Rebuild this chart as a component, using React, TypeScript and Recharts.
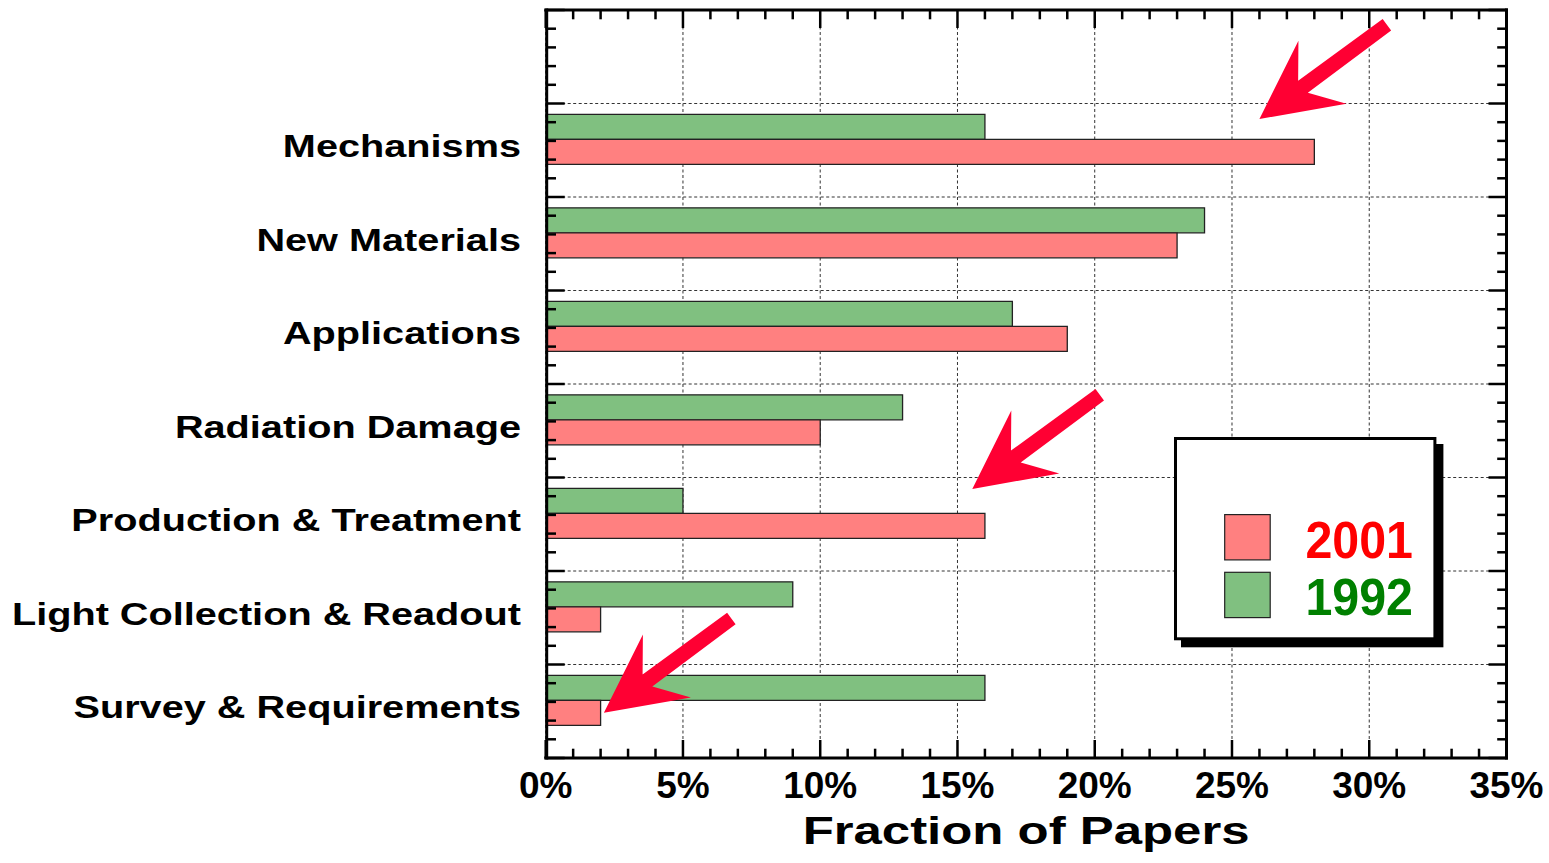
import React from 'react';
import { BarChart, Bar, XAxis, YAxis, CartesianGrid, ReferenceDot, Legend, Label } from 'recharts';

// ---------- data ----------
const categories = [
  'Mechanisms',
  'New Materials',
  'Applications',
  'Radiation Damage',
  'Production & Treatment',
  'Light Collection & Readout',
  'Survey & Requirements',
];
const values1992 = [16, 24, 17, 13, 5, 9, 16];
const values2001 = [28, 23, 19, 10, 16, 2, 2];

const xMajorTicks = [0, 5, 10, 15, 20, 25, 30, 35];
const xMinorTicks = Array.from({ length: 36 }, (_, i) => i);
const bandMajorTicks = [0, 5, 10, 15, 20, 25, 30, 35, 40];
const bandMinorTicks = Array.from({ length: 41 }, (_, i) => i);

// arrow annotation tips (x in %, y in band-grid units from the top, 5 per category band)
const arrowTipsX = [26.0, 15.54, 2.12];
const arrowTipsY = [5.83, 25.61, 37.58];

const series = [
  { key: 'y1992', label: '1992', fill: '#80C080', text: '#008000' },
  { key: 'y2001', label: '2001', fill: '#FF8080', text: '#FF0000' },
];
const legendOrder = ['y2001', 'y1992'];

const data = categories.map((name, i) => ({ name, y1992: values1992[i], y2001: values2001[i] }));

// ---------- styles ----------
const FONT = '"Liberation Sans", Arial, Helvetica, sans-serif';
const W = 1549;
const H = 863;
const TICK_W = 2.5;
const MAJOR_LEN = 18;
const MINOR_LEN = 9.3;

const tickLen = (v: number) => (v % 5 === 0 ? MAJOR_LEN : MINOR_LEN);

const BottomTicks = (p: any) => (
  <line x1={p.x} x2={p.x} y1={p.y} y2={p.y - tickLen(p.payload.value)} stroke="#000" strokeWidth={TICK_W} />
);
const TopTicks = (p: any) => (
  <line x1={p.x} x2={p.x} y1={p.y} y2={p.y + tickLen(p.payload.value)} stroke="#000" strokeWidth={TICK_W} />
);
const LeftTicks = (p: any) => (
  <line x1={p.x} x2={p.x + tickLen(p.payload.value)} y1={p.y} y2={p.y} stroke="#000" strokeWidth={TICK_W} />
);
const RightTicks = (p: any) => (
  <line x1={p.x} x2={p.x - tickLen(p.payload.value)} y1={p.y} y2={p.y} stroke="#000" strokeWidth={TICK_W} />
);
const EmptyTick = () => <g />;

const XLabelTick = (p: any) => (
  <text x={p.x} y={p.y + 40.3} textAnchor="middle" fontSize={37} fontWeight="bold" fontFamily={FONT} fill="#000">
    {`${p.payload.value}%`}
  </text>
);

const CatTick = (p: any) => (
  <g transform={`translate(${p.x - 24.7},${p.y + 18}) scale(1.26,1)`}>
    <text x={0} y={0} textAnchor="end" fontSize={31.5} fontWeight="bold" fontFamily={FONT} fill="#000">
      {p.payload.value}
    </text>
  </g>
);

const TitleContent = (p: any) => {
  const vb = p.viewBox || {};
  const cx = vb.x + vb.width / 2;
  const by = vb.y + 86;
  return (
    <g transform={`translate(${cx},${by}) scale(1.34,1)`}>
      <text x={0} y={0} textAnchor="middle" fontSize={38} fontWeight="bold" fontFamily={FONT} fill="#000">
        Fraction of Papers
      </text>
    </g>
  );
};

const arrowOutline = [
  [0, 0],
  [87, -15.3],
  [48.4, -26.3],
  [131.7, -88.5],
  [123.2, -100],
  [38.7, -38.3],
  [39, -78.3],
];
const ArrowShape = (p: any) => {
  if (p.cx == null || p.cy == null) return null;
  const pts = arrowOutline.map(([dx, dy]) => `${p.cx + dx},${p.cy + dy}`).join(' ');
  return <polygon points={pts} fill="#FF0033" />;
};

const LegendBox = () => (
  <svg width={272} height={212} style={{ display: 'block' }}>
    <rect x={7} y={7} width={262.4} height={203.3} fill="#000" />
    <rect x={1.5} y={1.5} width={259.4} height={200.3} fill="#fff" stroke="#000" strokeWidth={3} />
    {legendOrder.map((k, i) => {
      const s = series.find((d) => d.key === k)!;
      return (
        <g key={k}>
          <rect x={50.7} y={77.6 + i * 57.7} width={45.5} height={45.3} fill={s.fill} stroke="#222" strokeWidth={1.2} />
          <g transform={`translate(131.4,${120.6 + i * 57.7}) scale(0.93,1)`}>
            <text x={0} y={0} fontSize={52} fontWeight="bold" fontFamily={FONT} fill={s.text}>
              {s.label}
            </text>
          </g>
        </g>
      );
    })}
  </svg>
);

const frameLine = { stroke: '#000', strokeWidth: 3, strokeLinecap: 'square' as const };

export default function App() {
  return (
    <div style={{ position: 'absolute', left: 0, top: 0, width: W, height: H, background: '#fff' }}>
      <BarChart
        width={W}
        height={H}
        data={data}
        layout="vertical"
        margin={{ top: 10, right: 42.5, bottom: 0, left: 0 }}
        barSize={25}
        barGap={0}
      >
        <CartesianGrid xAxisId="val" yAxisId="lg" stroke="#333" strokeDasharray="3 2.5" strokeWidth={1} />

        <XAxis
          xAxisId="val"
          type="number"
          orientation="bottom"
          domain={[0, 35]}
          allowDataOverflow
          ticks={xMajorTicks}
          interval={0}
          height={105}
          tickSize={0}
          tickMargin={0}
          tickLine={false}
          tick={XLabelTick}
          axisLine={frameLine}
        >
          <Label content={TitleContent} />
        </XAxis>
        <XAxis
          xAxisId="bm"
          type="number"
          orientation="bottom"
          mirror
          domain={[0, 35]}
          allowDataOverflow
          ticks={xMinorTicks}
          interval={0}
          height={1}
          tickSize={0}
          tickMargin={0}
          tickLine={false}
          tick={BottomTicks}
          axisLine={false}
        />
        <XAxis
          xAxisId="tm"
          type="number"
          orientation="top"
          mirror
          domain={[0, 35]}
          allowDataOverflow
          ticks={xMinorTicks}
          interval={0}
          height={1}
          tickSize={0}
          tickMargin={0}
          tickLine={false}
          tick={TopTicks}
          axisLine={frameLine}
        />

        <YAxis
          yAxisId="cat"
          type="category"
          dataKey="name"
          orientation="left"
          width={545.7}
          interval={0}
          padding={{ top: 82.3, bottom: 11.2 }}
          tickSize={0}
          tickMargin={0}
          tickLine={false}
          axisLine={false}
          tick={CatTick}
        />
        <YAxis
          yAxisId="lg"
          type="number"
          dataKey="y1992"
          orientation="left"
          mirror
          domain={[0, 40]}
          allowDataOverflow
          ticks={bandMajorTicks}
          interval={0}
          width={1}
          tickSize={0}
          tickMargin={0}
          tick={EmptyTick}
          tickLine={false}
          axisLine={false}
        />
        <YAxis
          yAxisId="lm"
          type="number"
          dataKey="y1992"
          orientation="left"
          mirror
          domain={[0, 40]}
          allowDataOverflow
          ticks={bandMinorTicks}
          interval={0}
          width={1}
          tickSize={0}
          tickMargin={0}
          tickLine={false}
          tick={LeftTicks}
          axisLine={frameLine}
        />
        <YAxis
          yAxisId="rm"
          type="number"
          dataKey="y1992"
          orientation="right"
          mirror
          domain={[0, 40]}
          allowDataOverflow
          ticks={bandMinorTicks}
          interval={0}
          width={1}
          tickSize={0}
          tickMargin={0}
          tickLine={false}
          tick={RightTicks}
          axisLine={frameLine}
        />

        {series.map((s) => (
          <Bar
            key={s.key}
            dataKey={s.key}
            name={s.label}
            xAxisId="val"
            yAxisId="cat"
            fill={s.fill}
            stroke="#222"
            strokeWidth={1.3}
            isAnimationActive={false}
          />
        ))}

        {arrowTipsX.map((x, i) => (
          <ReferenceDot
            key={i}
            xAxisId="val"
            yAxisId="lg"
            x={x}
            y={arrowTipsY[i]}
            r={1}
            ifOverflow="visible"
            shape={ArrowShape}
          />
        ))}

        <Legend
          layout="horizontal"
          verticalAlign="middle"
          align="center"
          wrapperStyle={{ position: 'absolute', left: 1174.3, top: 436.7, width: 272, height: 212 }}
          content={() => <LegendBox />}
        />
      </BarChart>
    </div>
  );
}
